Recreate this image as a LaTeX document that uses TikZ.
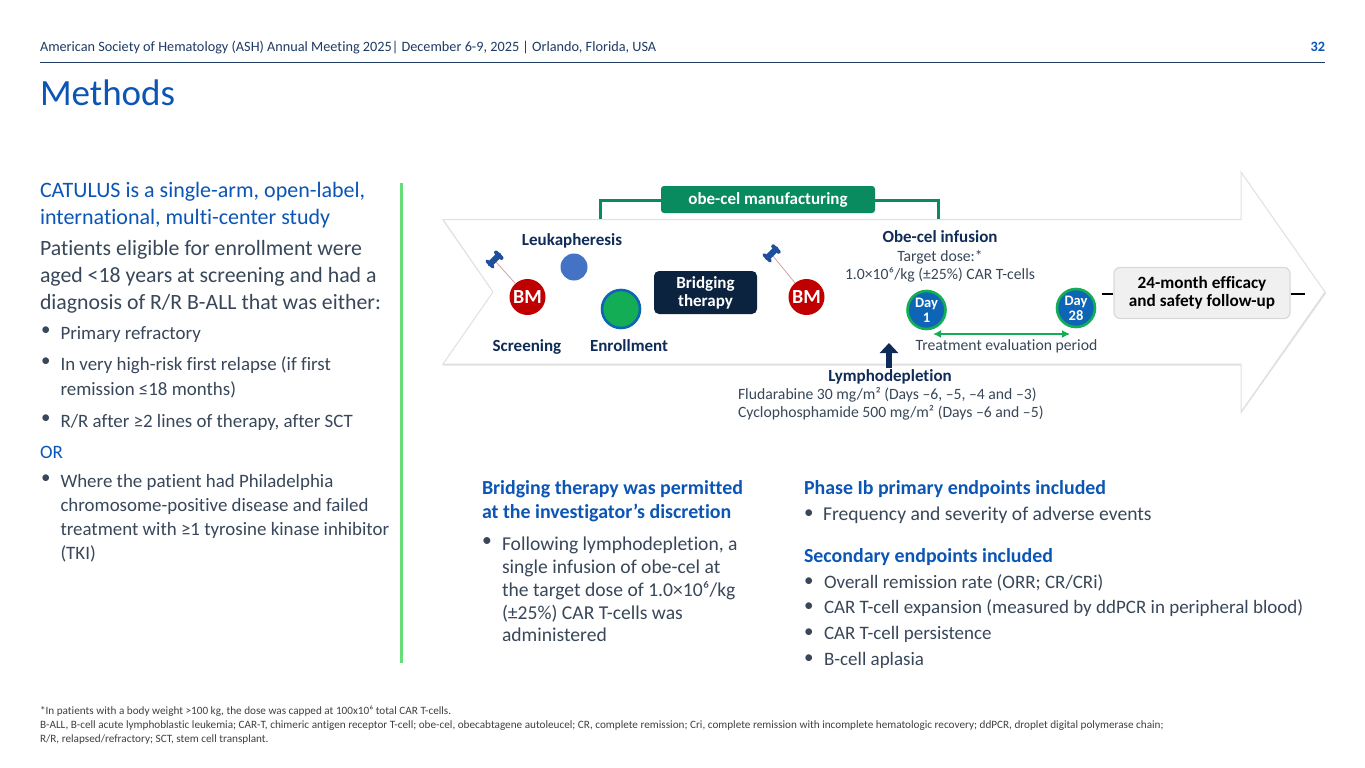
\documentclass[tikz,border=0pt]{standalone}
\usepackage{fontspec}
\setmainfont{Carlito}[Ligatures=NoCommon]
\usetikzlibrary{arrows.meta}
\definecolor{titleblue}{HTML}{0B55B5}
\definecolor{navy}{HTML}{0F2B57}
\definecolor{bodytxt}{HTML}{384759}
\definecolor{hdr}{HTML}{1F3A63}
\definecolor{mfg}{HTML}{0A8A5F}
\definecolor{brightgreen}{HTML}{12AD55}
\definecolor{barg}{HTML}{66DD77}
\definecolor{bmred}{HTML}{C00000}
\definecolor{pinblue}{HTML}{1F4E9C}
\definecolor{daybl}{HTML}{0F65B5}
\definecolor{softblue}{HTML}{4472C4}
\definecolor{bridgebg}{HTML}{0C2340}
\newcommand{\fsz}[2]{\fontsize{#1pt}{#2pt}\selectfont}
\newcommand{\supr}[1]{{\addfontfeature{VerticalPosition=Superior}#1}}
\tikzset{
  txt/.style={inner sep=0pt,outer sep=0pt,anchor=north west,align=left,text=bodytxt},
  ctr/.style={inner sep=0pt,outer sep=0pt,align=center,text=bodytxt},
  lab/.style={ctr,text=navy,font=\fsz{17}{20}\bfseries},
  small/.style={ctr,font=\fsz{15.7}{18}},
  bmc/.style={circle,fill=bmred,text=white,minimum size=36pt,inner sep=0pt,font=\fsz{20}{24}\bfseries},
  dayc/.style={circle,fill=daybl,draw=brightgreen,line width=2.6pt,minimum size=38pt,inner sep=0pt,align=center,text=white,font=\fsz{14.5}{15}\bfseries},
  head/.style={txt,text=titleblue,font=\fsz{19.9}{24}\bfseries},
  bul/.style={txt,font=\fsz{19}{25}},
  lbul/.style={txt,font=\fsz{18.9}{24.2}},
}
\newcommand{\pin}[2]{%
  \begin{scope}[shift={(#1,#2)},pinblue,line cap=round]
    \draw[line width=6pt] (-4,4) -- (4,-4);
    \draw[line width=4pt] (1.5,-7) -- (7,-1.5);
    \draw[line width=3.5pt] (-7.5,1.5) -- (-1.5,7.5);
  \end{scope}}
\begin{document}
\begin{tikzpicture}[x=1pt,y=-1pt]
\useasboundingbox (0,0) rectangle (1365,768);
\fill[white] (0,0) rectangle (1365,768);
% header
\node[txt,anchor=base west,text=hdr,font=\fsz{14.25}{16}] (hd) at (40,52) {American Society of Hematology (ASH) Annual Meeting 2025| December 6-9, 2025 | Orlando, Florida, USA};
\node[txt,anchor=base east,text=titleblue,font=\fsz{14.25}{16}\bfseries] (pg) at (1325,52) {32};
\draw[hdr,line width=.8pt] (40,62.5) -- (1325,62.5);
\node[txt,anchor=base west,text=titleblue,font=\fsz{37}{40}] (ttl) at (40,105) {Methods};
% left column
\node[txt,text=titleblue,font=\fsz{22}{27}] (l1) at (40,182) {CATULUS is a single-arm, open-label,\\international, multi-center study};
\node[txt,font=\fsz{21.8}{27}] (l2) at (40,240.5) {Patients eligible for enrollment were\\aged <18 years at screening and had a\\diagnosis of R/R B-ALL that was either:};
\node[lbul] (b1d) at (41,327) {•};
\node[lbul] (b1) at (60.5,326) {Primary refractory};
\node[lbul] (b2d) at (41,358) {•};
\node[lbul] (b2) at (60.5,357) {In very high-risk first relapse (if first\\remission ≤18 months)};
\node[lbul] (b3d) at (41,415) {•};
\node[lbul] (b3) at (60.5,414) {R/R after ≥2 lines of therapy, after SCT};
\node[lbul,text=titleblue] (or) at (40,446.5) {OR};
\node[lbul] (b4d) at (41,475) {•};
\node[lbul] (b4) at (60.5,474) {Where the patient had Philadelphia\\chromosome-positive disease and failed\\treatment with ≥1 tyrosine kinase inhibitor\\(TKI)};
\draw[barg,line width=3pt] (401.5,183) -- (401.5,663);
% bracket + big arrow
\draw[mfg,line width=3pt] (600,219) -- (600,200) -- (938.7,200) -- (938.7,219);
\fill[black!12] (443,221) -- (1241,221) -- (1241,173.5) -- (1326,293.5) -- (1241,413.5) -- (1241,365.5) -- (443,365.5) -- (494,293.5) -- cycle;
\filldraw[fill=white,draw=black!12,line width=1pt] (443,219.5) -- (1241,219.5) -- (1241,172) -- (1325,292) -- (1241,412) -- (1241,364) -- (443,364) -- (493,292) -- cycle;
\node[fill=mfg,rounded corners=3pt,minimum width=214pt,minimum height=27pt,inner sep=0pt,text=white,font=\fsz{17}{20}\bfseries] (mfgbox) at (768,199.5) {\raisebox{-1.5pt}{obe-cel manufacturing}};
% left part of arrow
\node[lab,anchor=base] (leuk) at (572,245) {Leukapheresis};
\node[lab,anchor=base] (scr) at (527,351) {Screening};
\node[lab,anchor=base] (enr) at (629,351) {Enrollment};
\node[circle,fill=softblue,minimum size=27pt,inner sep=0pt] (cb) at (574,267) {};
\node[circle,fill=brightgreen,draw=daybl,line width=2.6pt,minimum size=38pt,inner sep=0pt] (cg) at (621,309) {};
\node[bmc] (bm1) at (527.5,297) {BM};
\node[bmc] (bm2) at (806.5,297) {BM};
\coordinate (p1) at (496,262);
\coordinate (p2) at (773,256);
\draw[black!30!bmred!40,line width=.7pt] (p1) -- (bm1);
\draw[black!30!bmred!40,line width=.7pt] (p2) -- (bm2);
\pin{494.5}{259.5}
\pin{771.7}{253.3}
\node[fill=bridgebg,rounded corners=5pt,minimum width=103pt,minimum height=43pt,inner sep=0pt,align=center,text=white,font=\fsz{17}{18}\bfseries] (bridge) at (705.5,292.5) {Bridging\\therapy};
% right part
\node[lab,anchor=base] (obe) at (940,242.5) {Obe-cel infusion};
\node[small] (dose) at (940,266.5) {Target dose:*\\1.0×10\supr{6}/kg (±25\%) CAR T-cells};
\node[dayc] (d1) at (926.5,310) {Day\\1};
\node[dayc] (d28) at (1076,308) {Day\\28};
\coordinate (ev1) at (933,334);
\coordinate (ev2) at (1070,334);
\draw[brightgreen,line width=2.4pt,{Latex[length=8pt,width=8pt]}-{Latex[length=8pt,width=8pt]}] (ev1) -- (ev2);
\node[small] (ev) at (1006.5,346.5) {Treatment evaluation period};
\node[fill=black!6,draw=black!15,line width=1.2pt,rounded corners=6pt,minimum width=176pt,minimum height=51pt,inner sep=0pt,align=center,text=black,font=\fsz{17.2}{18.5}\bfseries] (fu) at (1202,293) {24-month efficacy\\and safety follow-up};
\coordinate (da) at (1102,294);
\coordinate (db) at (1305,294);
\draw[black,line width=2.8pt] (da) -- (fu.west |- da);
\draw[black,line width=2.8pt] (fu.east |- db) -- (db);
\coordinate (ua) at (889,368);
\coordinate (ub) at (889,343);
\draw[navy,line width=6.5pt,-{Triangle[length=10pt,width=18pt]}] (ua) -- (ub);
\node[lab] (lym) at (890,377) {Lymphodepletion};
\node[txt,font=\fsz{15.7}{18}] (lym2) at (738,387.5) {Fludarabine 30 mg/m\supr{2} (Days –6, –5, –4 and –3)\\Cyclophosphamide 500 mg/m\supr{2} (Days –6 and –5)};
% lower columns
\node[head] (bt) at (482,480.5) {Bridging therapy was permitted\\at the investigator’s discretion};
\node[txt,font=\fsz{19.6}{22.8}] (btd) at (482,538) {•};
\node[txt,font=\fsz{19.6}{22.8}] (btt) at (502,537) {Following lymphodepletion, a\\single infusion of obe-cel at\\the target dose of 1.0×10\supr{6}/kg\\(±25\%) CAR T-cells was\\administered};
\node[head] (ph) at (804,480.5) {Phase Ib primary endpoints included};
\node[bul] (phd) at (804,510) {•};
\node[bul,font=\fsz{19.6}{25}] (pht) at (823,507) {Frequency and severity of adverse events};
\node[head] (se) at (804,548.5) {Secondary endpoints included};
\node[bul] (se1d) at (804,578) {•};
\node[bul] (se1) at (824,575) {Overall remission rate (ORR; CR/CRi)};
\node[bul] (se2d) at (804,603) {•};
\node[bul] (se2) at (824,600) {CAR T-cell expansion (measured by ddPCR in peripheral blood)};
\node[bul] (se3d) at (804,629) {•};
\node[bul] (se3) at (824,626) {CAR T-cell persistence};
\node[bul] (se4d) at (804,655) {•};
\node[bul] (se4) at (824,652) {B-cell aplasia};
% footnote
\node[txt,text=black!75,font=\fsz{11.2}{14}] (fn) at (40,706) {*In patients with a body weight >100 kg, the dose was capped at 100x10\supr{6} total CAR T-cells.\\B-ALL, B-cell acute lymphoblastic leukemia; CAR-T, chimeric antigen receptor T-cell; obe-cel, obecabtagene autoleucel; CR, complete remission; Cri, complete remission with incomplete hematologic recovery; ddPCR, droplet digital polymerase chain;\\R/R, relapsed/refractory; SCT, stem cell transplant.};
\end{tikzpicture}
\end{document}
